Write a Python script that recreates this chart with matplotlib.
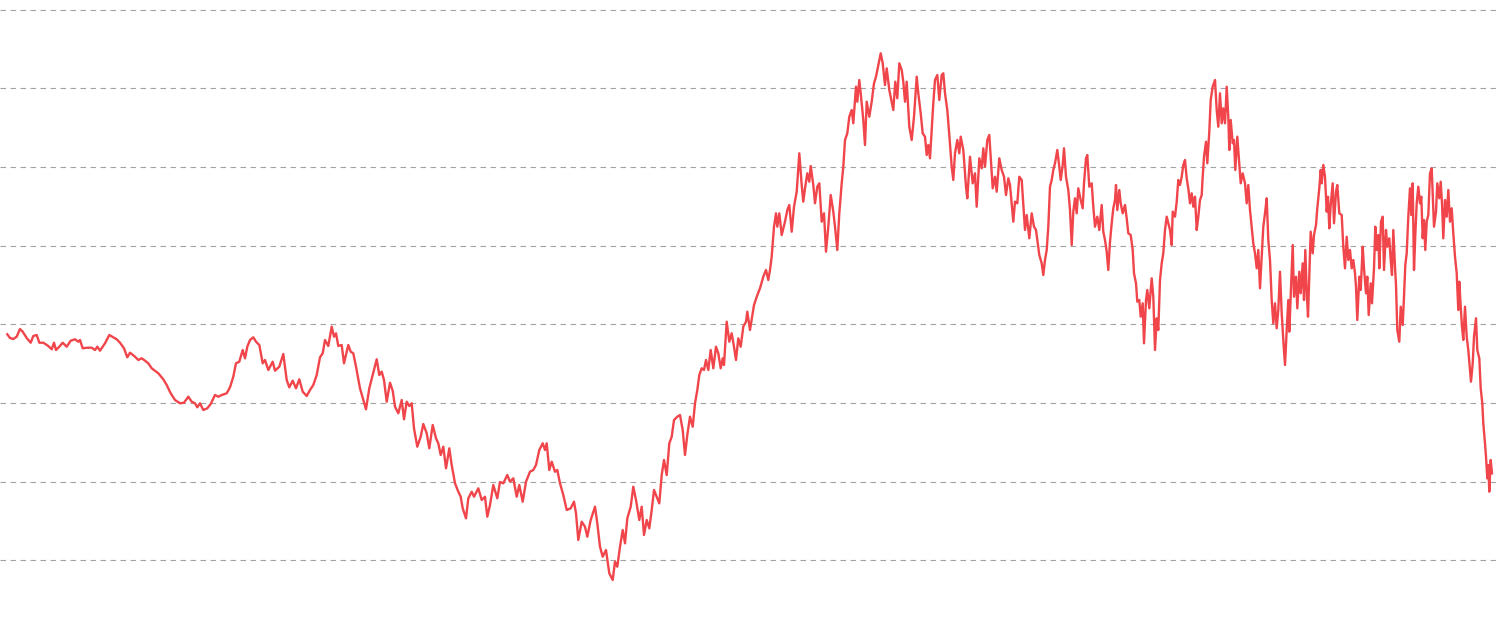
import matplotlib
matplotlib.use("Agg")
import matplotlib.pyplot as plt
import numpy as np

# Time index (trading-day position) and series value
t = [7.3, 10, 13.3, 16.7, 20, 22.7, 26.7, 30.7, 33.3, 36.7, 39.3, 43.3, 48.3, 51.7, 54, 56, 59.3, 62.7, 66.7, 70.7,
     75, 78.3, 80, 82.7, 87.3, 91.7, 95, 97.3, 100, 105, 109.3, 113.3, 116.7, 120, 124, 127.3, 130, 135, 138.3, 141.7,
     145, 148.3, 151.7, 154, 158.3, 163.3, 166.7, 170.7, 175, 180, 184, 188.3, 191.7, 195, 197.3, 200, 203.3, 207.3, 210.7, 215,
     218.3, 221.7, 226.7, 230, 233.3, 236, 239.3, 242.7, 245, 247.3, 250,
     253.3, 256, 259.3, 262.7, 265, 268.3, 272.7, 275, 279.3, 283.3, 286.7, 289.3, 292.7, 296, 299.3, 302.7, 306.7, 310, 313.3, 316.7,
     320, 322.7, 325, 328.3, 331.7, 334, 336, 338.3, 341.7, 344, 348.3, 350.7, 353.3, 356, 360, 363.3, 366, 369.3, 372.7, 376.7,
     379.3, 381.7, 384, 386.7, 390, 392.7, 395, 398.3, 401.7, 404, 406.7, 409.3, 411.7, 414, 417.3, 420.7, 423.3, 426.7, 429.3, 432.7,
     436, 438.3, 440.7, 443.3, 446, 449.3, 451.7, 455, 458.3, 460.7, 462.7, 466, 468.3, 471.7, 474, 478.3, 481.7, 485, 487.3, 490,
     493.3, 497.3, 500,
     503.3, 507.3, 510, 513.3, 516.7, 519.3, 522.7, 526, 530, 533.3, 536, 539.3, 542.7, 545, 546.7, 549.3, 551.7, 555, 557.3, 560,
     563.3, 566.7, 570.7, 574, 576, 578.3, 581.7, 585, 587.3, 590.7, 595, 597.3, 600, 602.7, 606, 609.3, 612.7, 615, 617.3, 620,
     622.7, 625, 627.3, 630.7, 633.3, 636, 639.3, 641.7, 644, 646.7, 649.3, 651.7, 654, 656.7, 659.3, 661.7, 664, 666.7, 669.3, 671.7,
     674, 677.3, 680, 682.7, 685, 687.3, 690, 692.7, 695, 697.3, 699.3, 701.7, 704, 706, 708.3, 710.7, 713.3, 716, 718.3, 720.7,
     722.7, 724, 726.7, 729.3, 731.7, 734, 736, 738.3, 740.7, 743.3, 746, 747.3, 750, 754, 757,
     760, 763.3, 766, 768.3, 770, 771.7, 774, 776, 777.3, 779.3, 781.7, 785, 787.3, 789.3, 791.7, 794, 796.7, 799.3, 801.7, 803.3,
     805, 807.3, 809.3, 810.7, 813.3, 815, 817.3, 819.3, 821.7, 824, 826, 828.3, 830.7, 833.3, 835, 837.3, 839.3, 841.7, 843.3, 845,
     847.3, 849.3, 851.7, 853.3, 856, 857.3, 859.3, 861.7, 863.3, 865, 866.7, 869.3, 871.7, 874, 876, 878.3, 880.7, 882.7, 885, 886.7,
     889.3, 891.7, 893.3, 895.3, 897.3, 899.3, 901.7, 903.3, 905, 906.7, 909.3, 911.7, 914, 916.7, 918.3, 920.7, 922.7, 925, 926.7, 928.3,
     930, 931.7, 933.3, 935, 937.3, 939.3, 941.7, 943.3, 945, 947.3, 949.3, 951.7, 953.3, 955, 957.3, 959.3, 960.7, 963.3, 966, 967.3,
     970, 972.7, 975, 976.7, 979.3, 981.7, 983.3, 985, 987.3, 989.3, 990.7, 992.7, 995, 996.7, 999.3,
     1001.7, 1004, 1006, 1008.3, 1010, 1011.7, 1013.3, 1015, 1017.3, 1019.3, 1021.7, 1023.3, 1025, 1026.7, 1029.3, 1031.7, 1034, 1036, 1037.3, 1039.3,
     1041.7, 1043.3, 1045, 1046.7, 1048.3, 1050, 1051.7, 1053.3, 1055, 1057.3, 1059.3, 1060.7, 1062.7, 1064, 1066, 1068.3, 1070, 1071.7, 1073.3, 1075,
     1076.7, 1078.3, 1080.7, 1082.7, 1084, 1086, 1087.3, 1089.3, 1091.7, 1093.3, 1095, 1097.3, 1099.3, 1101.7, 1103.3, 1105, 1106.7, 1108.3, 1110, 1111.7,
     1113.3, 1115, 1116, 1117.3, 1119.3, 1120.7, 1122.7, 1125, 1126.7, 1128.3, 1130.7, 1132.7, 1134, 1136, 1137.3, 1139.3, 1140.7, 1142.7, 1144, 1146,
     1147.3, 1149.3, 1151.7, 1153.3, 1155, 1156.7, 1158.3, 1160, 1161.7, 1163.3, 1165, 1166.7, 1168.3, 1170, 1171.7, 1172.7, 1175, 1176.7, 1178.3, 1180,
     1181.7, 1183.3, 1185, 1186.7, 1188.3, 1190, 1191.7, 1193.3, 1195, 1196.7, 1198.3, 1200, 1201.7, 1202.7, 1204, 1206, 1207.3, 1209.3, 1210.7, 1212.7,
     1215, 1216.7, 1218.3, 1220, 1221.7, 1223.3, 1225, 1226.7, 1228.3, 1229.3, 1230.7, 1232.7, 1234, 1235.3, 1237.3, 1239.3, 1240.7, 1242.7, 1245, 1246.7,
     1248.3, 1250,
     1251.7, 1253.3, 1255, 1256.7, 1258.3, 1260, 1261.7, 1263.3, 1265, 1266.7, 1268.3, 1270, 1271.7, 1273.3, 1275, 1276.7, 1278.3, 1280, 1281.7, 1283.3,
     1285, 1286.7, 1288.3, 1289.3, 1290.7, 1292.7, 1294, 1296, 1297.3, 1299.3, 1300.7, 1302.7, 1304, 1305.3, 1306.7, 1308, 1309.3, 1310.7, 1312.7, 1314,
     1316, 1317.3, 1319.3, 1320.7, 1321.7, 1323.3, 1325, 1326.7, 1328, 1329.3, 1330.7, 1332.7, 1334, 1336, 1337.3, 1339.3, 1341.7, 1343.3, 1345, 1346.7,
     1348.3, 1350, 1351.7, 1353.3, 1355, 1356, 1357.3, 1359.3, 1360.7, 1362.7, 1364, 1366, 1367.3, 1368.7, 1370.7, 1372, 1374, 1375.3, 1376.7, 1378.3,
     1379.3, 1381, 1382.7, 1384, 1386, 1387.3, 1389.3, 1390.7, 1392, 1393.3, 1395, 1396, 1397.3, 1399.3, 1400.7, 1402.7, 1404, 1405.3, 1406.7, 1408.3,
     1410, 1411.3, 1412.7, 1414, 1415.3, 1416.7, 1418.3, 1420, 1421.3, 1422.7, 1424, 1425.3, 1426.7, 1428.3, 1430, 1431.7, 1432.7, 1434, 1436, 1437.3,
     1439.3, 1440.7, 1442, 1443.3, 1445, 1446.7, 1448.3, 1450, 1451.7, 1453.3, 1455, 1456.7, 1458.3, 1459.3, 1460.7, 1462, 1463.3, 1465, 1466.7, 1468.3,
     1470, 1471, 1472.7, 1474, 1476, 1477.3, 1479.3, 1480.7, 1482.3, 1483.3, 1485, 1486, 1487.3, 1488.3, 1489.3, 1490.7, 1492]

value = [305.7, 302, 301, 303.3, 311, 308.3, 302, 297.3, 304, 305, 297.3, 297.3, 294, 290.7, 297.3, 290, 293.3, 297.3, 293.3, 299.3,
         300.7, 298.3, 300, 291.7, 292.3, 292.3, 290, 293.3, 289.3, 296.7, 305, 302.7, 300.7, 297.3, 291.7, 282.7, 287.3, 283.3, 280, 281.7,
         279.3, 276.7, 271.7, 270, 266.7, 260.7, 255, 246.7, 240, 236.7, 237.3, 243.3, 238.3, 236.7, 232.7, 236.7, 230, 231.7, 236, 245,
         243.3, 245, 246.7, 252.7, 263.3, 276.7, 278.3, 290, 281.7, 293.3, 300,
         302.7, 298.3, 295, 276.7, 280, 270, 278.3, 269.3, 273.3, 286, 260, 252.7, 259.3, 251.7, 260.7, 248.3, 244, 250, 255, 265,
         282.7, 286.7, 300, 294, 313.3, 303.3, 306.7, 294, 295, 276.7, 295, 288.3, 286.7, 273.3, 251.7, 240, 230.7, 251.7, 265, 280.7,
         265, 268.3, 260, 238.3, 257.3, 249.3, 233.3, 226.7, 240, 220.7, 238.3, 234, 236.7, 211.7, 193.3, 203.3, 216, 206.7, 191.7, 215,
         201.7, 196.7, 185, 193.3, 171.7, 191.7, 175, 156.7, 148.3, 143.3, 131.7, 121.7, 141.7, 148.3, 143.3, 151.7, 140, 143.3, 123.3, 135,
         155, 141.7, 158,
         156.7, 165, 158.3, 161.7, 143.3, 155, 138.3, 158.3, 168.3, 170, 175, 190, 196.7, 190, 196.7, 170, 178.3, 168.3, 170, 156.7,
         145, 130, 131.7, 138.3, 126.7, 100, 118.3, 113.3, 103.3, 120, 133.3, 116.7, 93.3, 83.3, 90, 66.7, 60, 78.3, 73.3, 93.3,
         110, 96.7, 121.7, 133.3, 153.3, 140, 120, 133.3, 105, 120, 111.7, 130, 150, 143.3, 136.7, 165, 180, 165, 196.7, 203.3,
         220, 223.3, 225, 210, 185, 205, 223.3, 213.3, 236.7, 250, 265, 271.7, 270, 280, 270, 290, 271.7, 293.3, 286.7, 271.7,
         281.7, 275, 318.3, 298.3, 306.7, 293.3, 280, 301.7, 293.3, 313.3, 318.3, 328.3, 310, 335, 344,
         351.7, 363.3, 370, 360, 370, 383.3, 413.3, 426.7, 413.3, 426.7, 405, 418.3, 430, 435, 408.3, 433.3, 448.3, 486.7, 455, 438.3,
         451.7, 466.7, 458.3, 474, 455, 436.7, 453.3, 456.7, 418.3, 426.7, 388.3, 413.3, 445, 428.3, 413.3, 390, 426.7, 456.7, 473.3, 500,
         506.7, 523.3, 530, 516.7, 553.3, 538.3, 560, 536.7, 520, 495, 538.3, 523.3, 538.3, 556.7, 563.3, 575, 586.7, 576.7, 555, 571.7,
         550, 538.3, 530, 558.3, 541.7, 576.7, 570, 558.3, 538.3, 558.3, 513.3, 500, 523.3, 563.3, 546.7, 526.7, 506.7, 503.3, 485, 495,
         481.7, 510, 536.7, 560, 565, 540, 565, 566.7, 546.7, 530, 505, 473.3, 460, 486.7, 500, 486.7, 503.3, 490, 453.3, 441.7,
         483.3, 456.7, 466.7, 433.3, 481.7, 471.7, 491.7, 473.3, 500, 505, 483.3, 451.7, 463.3, 448.3, 481.7,
         470, 463.3, 445, 461.7, 455, 436.7, 418.3, 438.3, 436.7, 463.3, 460, 435, 410, 425, 401.7, 426.7, 413.3, 410, 400, 385,
         376.7, 365, 380, 390, 413.3, 453.3, 460, 470, 476.7, 490, 473.3, 460, 475, 491.7, 463.3, 450, 430, 395, 428.3, 441.7,
         426.7, 451.7, 440, 431.7, 456.7, 481.7, 485, 453.3, 456.7, 433.3, 413.3, 423.3, 410, 435, 408.3, 400, 388.3, 370, 398.3, 416.7,
         431.7, 440, 455, 430, 450, 436.7, 426.7, 435, 421.7, 406.7, 405, 390, 366.7, 356.7, 338.3, 340, 323.3, 336.7, 296.7, 340,
         350, 331.7, 361.7, 343.3, 290, 321.7, 310, 360, 376.7, 386.7, 410, 423.3, 416.7, 410, 395, 428.3, 423.3, 438.3, 460, 455,
         463.3, 475, 480, 461.7, 451.7, 436.7, 446.7, 433.3, 443.3, 410, 423.3, 440, 445, 463.3, 483.3, 498.3, 476.7, 508.3, 540, 553.3,
         560, 530, 513.3, 546.7, 516.7, 531.7, 516.7, 553.3, 523.3, 490, 520, 496.7, 500, 470, 503.3, 476.7, 456.7, 466.7, 456.7, 436.7,
         455, 430,
         413.3, 396.7, 386.7, 371.7, 390, 351.7, 383.3, 413.3, 426.7, 441.7, 400, 380, 340, 316.7, 336.7, 311.7, 330, 368.3, 326.7, 300,
         275, 310, 340, 308.3, 343.3, 395, 343.3, 363.3, 331.7, 368.3, 346.7, 376.7, 340, 390, 348.3, 323.3, 363.3, 408.3, 386.7, 405,
         415, 431.7, 451.7, 470, 456.7, 475, 463.3, 428.3, 443.3, 411.7, 435, 456.7, 416.7, 448.3, 455, 426.7, 425, 393.3, 371.7, 403.3,
         380, 390, 371.7, 380, 366.7, 353.3, 320, 363.3, 350, 393.3, 371.7, 346.7, 363.3, 325, 356.7, 336.7, 371.7, 413.3, 390, 405,
         371.7, 418.3, 423.3, 370, 410, 393.3, 401.7, 380, 365, 410, 373.3, 355, 310, 298.3, 333.3, 315, 343.3, 375, 386.7, 423.3,
         451.7, 425, 456.7, 370, 405, 436.7, 453.3, 436.7, 443.3, 401.7, 420, 390, 418.3, 425, 466.7, 471.7, 446.7, 413.3, 428.3, 456.7,
         441.7, 458.3, 436.7, 401.7, 440, 423.3, 450, 418.3, 431.7, 406.7, 383.3, 366.7, 330, 358.3, 333.3, 313.3, 300, 333.3, 303.3, 290,
         270, 258.3, 276.7, 303.3, 321.7, 290, 281.7, 251.7, 236.7, 216.7, 196.7, 183.3, 161.7, 175, 148.3, 180, 166.7]

grid_levels = list(np.linspace(79.7, 630.3, 8))

LINE_COLOR = "#f0454a"
GRID_COLOR = "#a3a3a3"

plt.rcParams["lines.scale_dashes"] = False
fig = plt.figure(figsize=(15, 6.33), dpi=100)
ax = fig.add_axes([0, 0, 1, 1])
ax.set_xlim(0, 1500)
ax.set_ylim(7, 640)

for g in grid_levels:
    ax.axhline(g, color=GRID_COLOR, lw=0.8, linestyle=(0, (4.0, 3.2)), zorder=1)

ax.plot(t, value, color=LINE_COLOR, lw=1.7, zorder=3, solid_joinstyle="round")

for s in ax.spines.values():
    s.set_visible(False)
ax.set_xticks([])
ax.set_yticks([])

fig.savefig("out.png", dpi=100, facecolor="white")
